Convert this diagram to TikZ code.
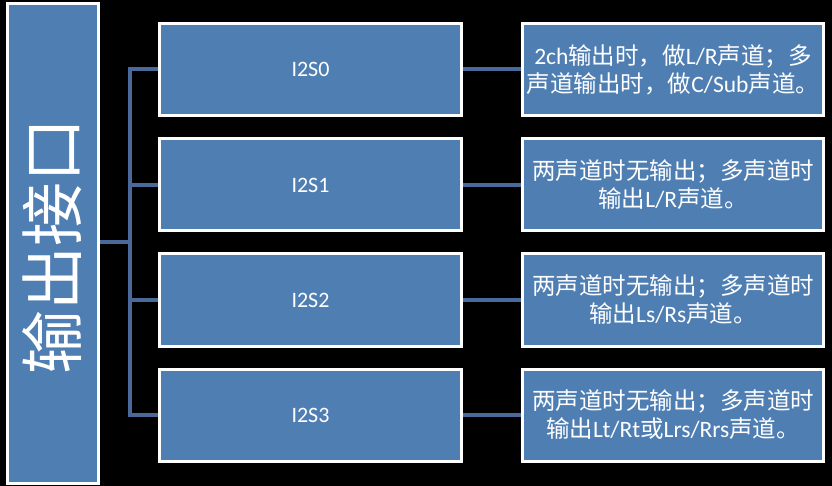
\documentclass[tikz,border=0pt]{standalone}
\usepackage{fontspec}
\setmainfont{Carlito}
\newfontfamily\cjk{Noto Sans CJK SC}
\newcommand{\zhtext}[1]{{\cjk #1}}
\usetikzlibrary{backgrounds}
\definecolor{boxblue}{HTML}{4F7EB3}
\definecolor{linkblue}{HTML}{48699A}
\begin{document}
\begin{tikzpicture}[x=1pt,y=-1pt,
  box/.style={fill=boxblue,draw=white,line width=3pt,text=white,align=center,inner sep=0pt},
  midbox/.style={box,minimum width=302pt,minimum height=92pt,font=\fontsize{22}{26}\selectfont},
  descbox/.style={box,minimum width=301pt,minimum height=92pt,font=\fontsize{23.5}{28}\selectfont},
  link/.style={draw=linkblue,line width=4pt}]
\useasboundingbox (0,0) rectangle (832,486);
\node[box,minimum width=91pt,minimum height=480pt] (root) at (53,243.5) {};
\node[rotate=90,text=white,inner sep=0pt,font=\cjk\fontsize{64}{64}\selectfont] (rootlabel) at (52,246) {输出接口};
\node[midbox] (m1) at (310.5,69.5) {I2S0};
\node[midbox] (m2) at (310.5,185) {I2S1};
\node[midbox] (m3) at (310.5,300) {I2S2};
\node[midbox] (m4) at (310.5,415) {I2S3};
\node[descbox] (d1) at (673,69.5) {2ch\zhtext{输出时，做}L/R\zhtext{声道；多}\\\zhtext{声道输出时，做}C/Sub\zhtext{声道。}};
\node[descbox] (d2) at (673,185) {\zhtext{两声道时无输出；多声道时}\\\zhtext{输出}L/R\zhtext{声道。}};
\node[descbox] (d3) at (673,300) {\zhtext{两声道时无输出；多声道时}\\\zhtext{输出}Ls/Rs\zhtext{声道。}};
\node[descbox] (d4) at (673,415) {\zhtext{两声道时无输出；多声道时}\\\zhtext{输出}Lt/Rt\zhtext{或}Lrs/Rrs\zhtext{声道。}};
\coordinate (bus) at (130,242);
\begin{scope}[on background layer]
  \fill[black] (0,0) rectangle (832,486);
  \draw[link] (root.east |- bus) -- (bus);
  \draw[link,line join=miter] (m1.west) -- (m1.west -| bus) -- (m4.west -| bus) -- (m4.west);
  \draw[link] (m2.west) -- (m2.west -| bus);
  \draw[link] (m3.west) -- (m3.west -| bus);
  \draw[link] (m1.east) -- (d1.west);
  \draw[link] (m2.east) -- (d2.west);
  \draw[link] (m3.east) -- (d3.west);
  \draw[link] (m4.east) -- (d4.west);
\end{scope}
\end{tikzpicture}
\end{document}
